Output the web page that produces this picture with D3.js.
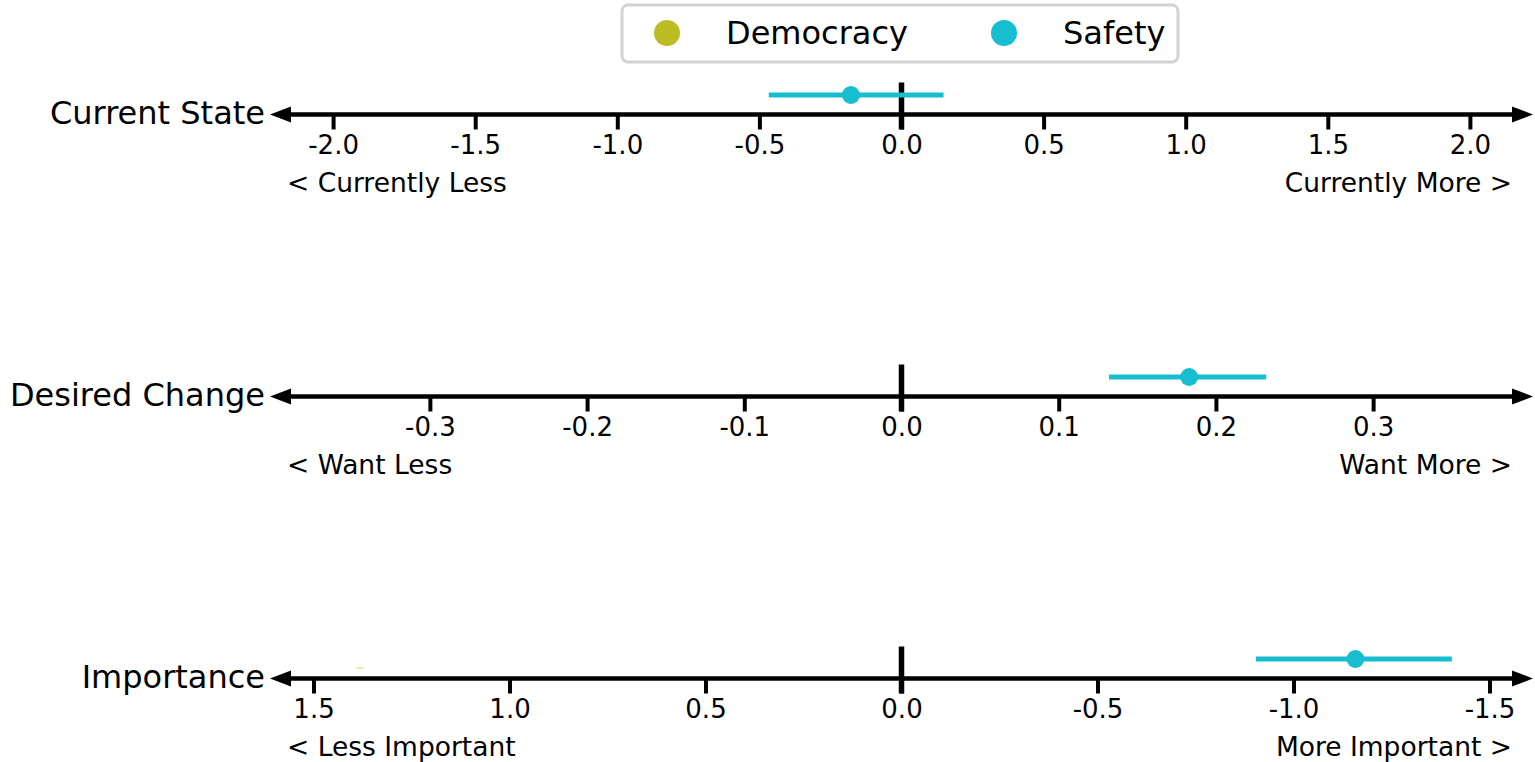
<!DOCTYPE html>
<html>
<head>
<meta charset="utf-8">
<script src="https://cdn.jsdelivr.net/npm/d3@7"></script>
<style>
  html, body { margin: 0; padding: 0; background: #fff; }
  svg { display: block; font-family: "DejaVu Sans", sans-serif; }
</style>
</head>
<body>
<svg id="chart" width="1535" height="762"></svg>
<script>
// Rows of the chart, each one a diverging axis
const rowNames = ["Current State", "Desired Change", "Importance"];
const leftLabels = ["< Currently Less", "< Want Less", "< Less Important"];
const rightLabels = ["Currently More >", "Want More >", "More Important >"];

// Axis extents (Importance runs reversed) and tick values
const currentDomain = [-2.222, 2.222];
const desiredDomain = [-0.4017, 0.4017];
const importanceDomain = [1.611, -1.611];
const currentTicks = [-2.0, -1.5, -1.0, -0.5, 0.0, 0.5, 1.0, 1.5, 2.0];
const desiredTicks = [-0.3, -0.2, -0.1, 0.0, 0.1, 0.2, 0.3];
const importanceTicks = [1.5, 1.0, 0.5, 0.0, -0.5, -1.0, -1.5];

// Series
const seriesNames = ["Democracy", "Safety"];
const seriesColors = ["#bcbd22", "#17becf"];

// Safety: mean with interval bounds, per row
const safetyMean = [-0.178, 0.183, -1.158];
const safetyLow = [-0.467, 0.132, -0.904];
const safetyHigh = [0.148, 0.232, -1.404];

// Democracy: only a tiny interval on Importance
const democracyLow = [null, null, 1.392];
const democracyHigh = [null, null, 1.372];

const domains = [currentDomain, desiredDomain, importanceDomain];
const tickSets = [currentTicks, desiredTicks, importanceTicks];
const axisY = [114.5, 396.5, 678.5];

const svg = d3.select("#chart");
const x0 = 270, x1 = 1533;

rowNames.forEach((name, i) => {
  const y = axisY[i];
  const x = d3.scaleLinear().domain(domains[i]).range([x0, x1]);
  const g = svg.append("g");

  // ticks via d3 axis
  const axis = d3.axisBottom(x)
    .tickValues(tickSets[i])
    .tickSize(15)
    .tickPadding(6)
    .tickFormat(d3.format(".1f"));
  const ag = g.append("g").attr("transform", `translate(0,${y})`).call(axis);
  ag.select(".domain").remove();
  ag.selectAll(".tick line").attr("stroke", "#000").attr("stroke-width", 4);
  ag.selectAll(".tick text")
    .attr("fill", "#000")
    .attr("font-size", 26)
    .attr("font-family", "DejaVu Sans, sans-serif")
    .attr("dy", null)
    .attr("y", 39)
    .text(d => d3.format(".1f")(d).replace("−", "-"));

  // main arrow line
  g.append("line")
    .attr("x1", x0 + 10).attr("x2", x1 - 10)
    .attr("y1", y).attr("y2", y)
    .attr("stroke", "#000").attr("stroke-width", 4.5);
  g.append("path")
    .attr("d", `M${x0},${y} L${x0 + 21},${y - 8} L${x0 + 21},${y + 8} Z`)
    .attr("fill", "#000");
  g.append("path")
    .attr("d", `M${x1},${y} L${x1 - 21},${y - 8} L${x1 - 21},${y + 8} Z`)
    .attr("fill", "#000");

  // zero marker
  g.append("line")
    .attr("x1", x(0)).attr("x2", x(0))
    .attr("y1", y - 32).attr("y2", y + 15)
    .attr("stroke", "#000").attr("stroke-width", 5.5);

  // row label
  g.append("text")
    .attr("x", 265).attr("y", y + 9)
    .attr("text-anchor", "end")
    .attr("font-size", 32)
    .attr("fill", "#000")
    .text(name);

  // direction captions
  g.append("text")
    .attr("x", 287).attr("y", y + 77)
    .attr("font-size", 26.5)
    .attr("fill", "#000")
    .text(leftLabels[i]);
  g.append("text")
    .attr("x", 1512).attr("y", y + 77)
    .attr("text-anchor", "end")
    .attr("font-size", 26.5)
    .attr("fill", "#000")
    .text(rightLabels[i]);

  // Democracy interval (only where present)
  if (democracyLow[i] !== null) {
    g.append("line")
      .attr("x1", x(democracyLow[i])).attr("x2", x(democracyHigh[i]))
      .attr("y1", y - 10.5).attr("y2", y - 10.5)
      .attr("stroke", seriesColors[0]).attr("stroke-width", 1)
      .attr("opacity", 0.6);
  }

  // Safety interval and mean
  const sy = y - 19.5;
  g.append("line")
    .attr("x1", x(safetyLow[i])).attr("x2", x(safetyHigh[i]))
    .attr("y1", sy).attr("y2", sy)
    .attr("stroke", seriesColors[1]).attr("stroke-width", 5);
  g.append("circle")
    .attr("cx", x(safetyMean[i])).attr("cy", sy)
    .attr("r", 9)
    .attr("fill", seriesColors[1]);
});

// Legend
const legend = svg.append("g");
legend.append("rect")
  .attr("x", 622).attr("y", 5).attr("width", 556).attr("height", 57)
  .attr("rx", 6).attr("ry", 6)
  .attr("fill", "#fff").attr("stroke", "#d3d3d3").attr("stroke-width", 3);
const legendX = [667, 1004];
seriesNames.forEach((s, k) => {
  legend.append("circle")
    .attr("cx", legendX[k]).attr("cy", 33).attr("r", 13)
    .attr("fill", seriesColors[k]);
  legend.append("text")
    .attr("x", legendX[k] + 59).attr("y", 33)
    .attr("dominant-baseline", "central")
    .attr("font-size", 32)
    .attr("fill", "#000")
    .text(s);
});
</script>
</body>
</html>
